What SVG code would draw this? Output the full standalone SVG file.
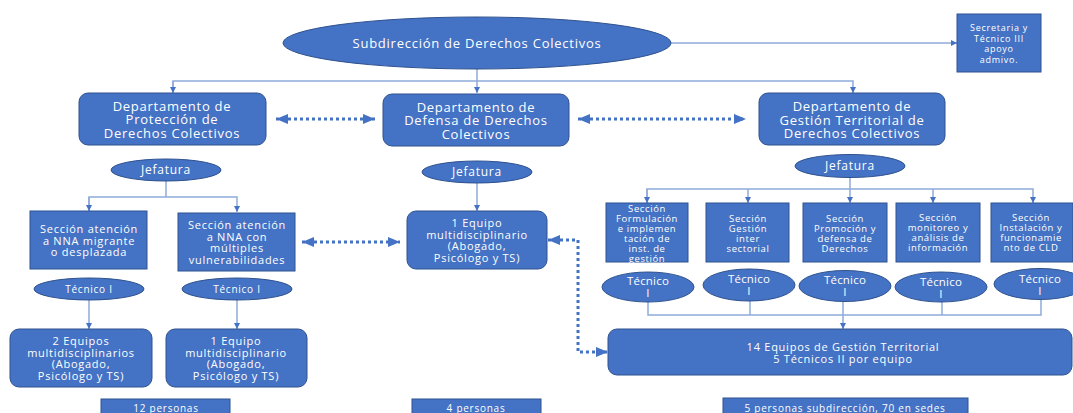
<svg xmlns="http://www.w3.org/2000/svg" width="1073" height="413" viewBox="0 0 1073 413">
<defs>
<marker id="a" viewBox="0 0 10 10" refX="10" refY="5" markerWidth="6" markerHeight="6" orient="auto" markerUnits="userSpaceOnUse"><path d="M0,0 L10,5 L0,10z" fill="#4472C4"/></marker>
<marker id="d" viewBox="0 0 12 10" refX="12" refY="5" markerWidth="12" markerHeight="10" orient="auto-start-reverse" markerUnits="userSpaceOnUse"><path d="M0,0 L12,5 L0,10z" fill="#4472C4"/></marker>
<style>
.n{fill:#4472C4;stroke:#2F528F;stroke-width:1}
.t{fill:#fff;font-family:"Open Sans","Liberation Sans",sans-serif;text-anchor:middle;letter-spacing:0.75px}
.s{letter-spacing:0.6px}
.k{letter-spacing:0.2px}
.c{fill:none;stroke:#8FAADC;stroke-width:1.5}
.dt{fill:none;stroke:#4472C4;stroke-width:3;stroke-dasharray:3 3}
</style>
</defs>
<rect width="1073" height="413" fill="#fff"/>
<g id="connectors">
<path class="c" d="M671,43 H957" marker-end="url(#a)"/>
<path class="c" d="M477,69 V93" marker-end="url(#a)"/>
<path class="c" d="M173,92 V81 H853 V93" marker-end="url(#a)"/>
<path class="c" d="M173,81 V93" marker-end="url(#a)"/>
<path class="c" d="M166,181 V197"/>
<path class="c" d="M89,211 V197 H237 V212" marker-end="url(#a)"/>
<path class="c" d="M89,197 V211" marker-end="url(#a)"/>
<path class="c" d="M89,300 V329" marker-end="url(#a)"/>
<path class="c" d="M237,300 V329" marker-end="url(#a)"/>
<path class="c" d="M477,183 V211" marker-end="url(#a)"/>
<path class="c" d="M850,178 V203" marker-end="url(#a)"/>
<path class="c" d="M647,203 V189 H1033 V203" marker-end="url(#a)"/>
<path class="c" d="M647,189 V203" marker-end="url(#a)"/>
<path class="c" d="M748,189 V203" marker-end="url(#a)"/>
<path class="c" d="M933,189 V203" marker-end="url(#a)"/>
<path class="c" d="M648,302 V315 H1041 V299"/>
<path class="c" d="M750,300 V315 M942,302 V315"/>
<path class="c" d="M843,301 V329" marker-end="url(#a)"/>
<path class="dt" d="M276,119 H375" marker-start="url(#d)" marker-end="url(#d)"/>
<path class="dt" d="M578,119 H746" marker-start="url(#d)" marker-end="url(#d)"/>
<path class="dt" d="M302,242 H400" marker-start="url(#d)" marker-end="url(#d)"/>
<path class="dt" d="M548,240 H578 V352 H608" marker-start="url(#d)" marker-end="url(#d)"/>
</g>
<g id="subdireccion"><ellipse class="n" cx="477" cy="43" rx="194" ry="26"/><text class="t" x="477" y="47.5" font-size="13">Subdirección de Derechos Colectivos</text></g>
<g id="secretaria"><rect class="n" x="957" y="14" width="84" height="58"/><text class="t" font-size="9"><tspan x="999" y="31">Secretaria y</tspan><tspan x="999" y="41.5">Técnico III</tspan><tspan x="999" y="52">apoyo</tspan><tspan x="999" y="62.5">admivo.</tspan></text></g>
<g id="dept-proteccion"><rect class="n" x="79" y="93" width="187" height="52" rx="9"/><text class="t" font-size="13"><tspan x="172" y="110.5">Departamento de</tspan><tspan x="172" y="124">Protección de</tspan><tspan x="172" y="137.5">Derechos Colectivos</tspan></text></g>
<g id="dept-defensa"><rect class="n" x="383" y="94" width="186" height="52" rx="9"/><text class="t" font-size="13"><tspan x="476" y="111.5">Departamento de</tspan><tspan x="476" y="125">Defensa de Derechos</tspan><tspan x="476" y="138.5">Colectivos</tspan></text></g>
<g id="dept-gestion"><rect class="n" x="759" y="93" width="186" height="52" rx="9"/><text class="t" font-size="13"><tspan x="852" y="111">Departamento de</tspan><tspan x="852" y="124.5">Gestión Territorial de</tspan><tspan x="852" y="138">Derechos Colectivos</tspan></text></g>
<g id="jefatura-1"><ellipse class="n" cx="166" cy="170" rx="55" ry="11"/><text class="t" x="166" y="174" font-size="12">Jefatura</text></g>
<g id="jefatura-2"><ellipse class="n" cx="477" cy="172" rx="55" ry="11"/><text class="t" x="477" y="176" font-size="12">Jefatura</text></g>
<g id="jefatura-3"><ellipse class="n" cx="850" cy="166" rx="55" ry="11.5"/><text class="t" x="850" y="170" font-size="12">Jefatura</text></g>
<g id="seccion-migrante"><rect class="n" x="30" y="211" width="117" height="58"/><text class="t" font-size="11"><tspan x="89" y="233">Sección atención</tspan><tspan x="89" y="244.5">a NNA migrante</tspan><tspan x="89" y="256">o desplazada</tspan></text></g>
<g id="seccion-vulnerabilidades"><rect class="n" x="178" y="213" width="117" height="58"/><text class="t" font-size="11"><tspan x="237" y="229">Sección atención</tspan><tspan x="237" y="240.5">a NNA con</tspan><tspan x="237" y="252">múltiples</tspan><tspan x="237" y="263.5">vulnerabilidades</tspan></text></g>
<g id="tecnico-a"><ellipse class="n" cx="89" cy="289" rx="55" ry="11"/><text class="t" x="89" y="292.5" font-size="10">Técnico I</text></g>
<g id="tecnico-b"><ellipse class="n" cx="237" cy="289" rx="55" ry="11"/><text class="t" x="237" y="292.5" font-size="10">Técnico I</text></g>
<g id="equipos-a"><rect class="n" x="10" y="329" width="142" height="58" rx="9"/><text class="t" font-size="11"><tspan x="81" y="345">2 Equipos</tspan><tspan x="81" y="356.5">multidisciplinarios</tspan><tspan x="81" y="368">(Abogado,</tspan><tspan x="81" y="379.5">Psicólogo y TS)</tspan></text></g>
<g id="equipo-b"><rect class="n" x="166" y="329" width="141" height="58" rx="9"/><text class="t" font-size="11"><tspan x="236" y="345">1 Equipo</tspan><tspan x="236" y="356.5">multidisciplinario</tspan><tspan x="236" y="368">(Abogado,</tspan><tspan x="236" y="379.5">Psicólogo y TS)</tspan></text></g>
<g id="equipo-defensa"><rect class="n" x="407" y="211" width="140" height="58" rx="9"/><text class="t" font-size="11"><tspan x="477" y="227">1 Equipo</tspan><tspan x="477" y="238.5">multidisciplinario</tspan><tspan x="477" y="250">(Abogado,</tspan><tspan x="477" y="261.5">Psicólogo y TS)</tspan></text></g>
<g id="sec-formulacion"><rect class="n" x="606" y="203" width="82" height="59"/><text class="t s" font-size="9.5"><tspan x="647" y="211.5">Sección</tspan><tspan x="647" y="221.5">Formulación</tspan><tspan x="647" y="231.5">e implemen</tspan><tspan x="647" y="241.5">tación de</tspan><tspan x="647" y="251.5">inst. de</tspan><tspan x="647" y="261.5">gestión</tspan></text></g>
<g id="sec-gestion"><rect class="n" x="706" y="203" width="83" height="59"/><text class="t s" font-size="9.5"><tspan x="748" y="221.5">Sección</tspan><tspan x="748" y="231.5">Gestión</tspan><tspan x="748" y="241.5">inter</tspan><tspan x="748" y="251.5">sectorial</tspan></text></g>
<g id="sec-promocion"><rect class="n" x="803" y="203" width="84" height="59"/><text class="t s" font-size="9.5"><tspan x="845" y="221.5">Sección</tspan><tspan x="845" y="231.5">Promoción y</tspan><tspan x="845" y="241.5">defensa de</tspan><tspan x="845" y="251.5">Derechos</tspan></text></g>
<g id="sec-monitoreo"><rect class="n" x="896" y="203" width="84" height="59"/><text class="t s" font-size="9.5"><tspan x="938" y="221">Sección</tspan><tspan x="938" y="231">monitoreo y</tspan><tspan x="938" y="241">análisis de</tspan><tspan x="938" y="251">información</tspan></text></g>
<g id="sec-instalacion"><rect class="n" x="991" y="203" width="82" height="59"/><text class="t s" font-size="9.5"><tspan x="1031" y="221">Sección</tspan><tspan x="1031" y="231">Instalación y</tspan><tspan x="1031" y="241">funcionamie</tspan><tspan x="1031" y="251">nto de CLD</tspan></text></g>
<g id="tec-1"><ellipse class="n" cx="648" cy="287" rx="46" ry="15"/><text class="t k" font-size="11.5"><tspan x="648" y="285">Técnico</tspan><tspan x="648" y="297">I</tspan></text></g>
<g id="tec-2"><ellipse class="n" cx="749" cy="285" rx="46" ry="16"/><text class="t k" font-size="11.5"><tspan x="749" y="283">Técnico</tspan><tspan x="749" y="295">I</tspan></text></g>
<g id="tec-3"><ellipse class="n" cx="845" cy="286" rx="46" ry="15.5"/><text class="t k" font-size="11.5"><tspan x="845" y="284">Técnico</tspan><tspan x="845" y="296">I</tspan></text></g>
<g id="tec-4"><ellipse class="n" cx="941" cy="287" rx="46" ry="15"/><text class="t k" font-size="11.5"><tspan x="941" y="285.5">Técnico</tspan><tspan x="941" y="297.5">I</tspan></text></g>
<g id="tec-5"><ellipse class="n" cx="1040" cy="284" rx="46" ry="15.5"/><text class="t k" font-size="11.5"><tspan x="1040" y="283">Técnico</tspan><tspan x="1040" y="295">I</tspan></text></g>
<g id="equipos-territorial"><rect class="n" x="608" y="329" width="464" height="46" rx="9"/><text class="t" font-size="11"><tspan x="843" y="351">14 Equipos de Gestión Territorial</tspan><tspan x="843" y="362.5">5 Técnicos II por equipo</tspan></text></g>
<g id="total-1"><rect class="n" x="101" y="399" width="129" height="20"/><text class="t" x="166" y="412" font-size="10">12 personas</text></g>
<g id="total-2"><rect class="n" x="412" y="399" width="129" height="20"/><text class="t" x="476" y="412" font-size="10">4 personas</text></g>
<g id="total-3"><rect class="n" x="723" y="398" width="245" height="20"/><text class="t" x="845" y="411.5" font-size="10" letter-spacing="0.9">5 personas subdirección, 70 en sedes</text></g>
</svg>
